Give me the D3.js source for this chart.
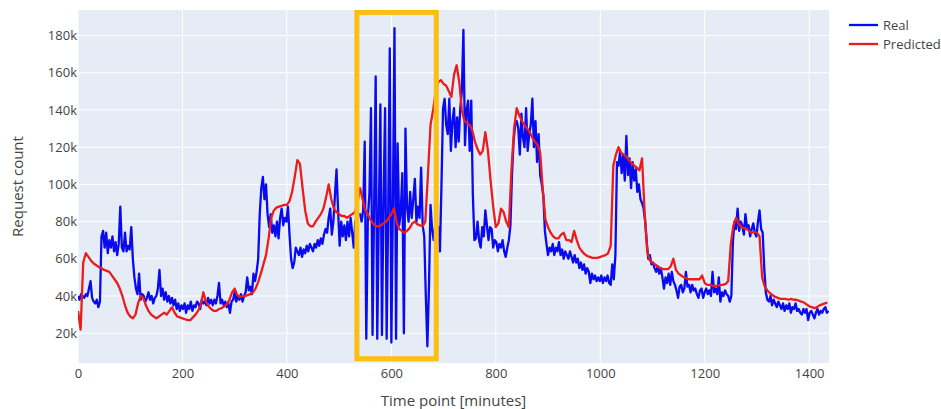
<!DOCTYPE html>
<html>
<head>
<meta charset="utf-8">
<script src="https://cdn.jsdelivr.net/npm/d3@7"></script>
<style>
  body { margin: 0; background: #fff; }
  text { font-family: "Open Sans", sans-serif; fill: #444; }
</style>
</head>
<body>
<div id="chart"></div>
<script>
//Minutes between two samples of each series.
var realStep = 3;
var predStep = 5;

//Real request count, in thousands, one value every 3 minutes.
var realValues = [
  40,38,41,40,39,41,40,44,48,39,37,36,38,34,37,72,
  75,66,74,63,70,66,72,64,69,62,68,88,66,64,74,64,67,65,77,
  60,50,44,41,52,38,41,40,37,39,42,38,40,36,39,40,
  44,54,40,44,38,42,37,40,36,39,35,38,33,36,32,35,33,36,31,35,33,37,32,35,34,37,36,33,38,36,
  37,35,39,36,38,35,38,36,40,47,36,38,35,37,34,36,31,37,38,42,37,40,38,41,37,40,42,50,43,45,41,52,48,53,60,
  84,98,104,92,100,84,77,84,74,78,72,80,71,82,87,78,82,80,88,73,60,55,
  58,66,64,62,66,61,65,63,67,64,68,66,64,68,66,70,67,71,68,73,76,74,82,
  87,73,80,94,108,86,67,80,72,78,70,80,72,82,74,66,80,82,84,
  84,80,86,123,17,82,95,141,19,88,158,17,84,143,19,92,141,17,86,173,
  15,90,184,17,122,78,85,106,20,130,88,80,96,82,92,103,80,88,82,109,
  78,72,40,13,45,89,76,70,78,74,77,64,100,141,146,132,127,146,118,134,141,
  120,136,123,141,150,183,121,140,145,118,145,95,70,71,80,70,66,77,72,86,
  78,70,77,76,66,70,69,64,68,66,70,64,61,66,70,78,105,
  123,132,134,130,116,138,125,120,141,118,127,132,146,120,134,112,127,105,100,94,75,68,62,
  66,64,68,62,66,64,69,62,65,60,64,62,60,64,61,58,62,58,60,55,
  58,54,57,52,55,53,47,52,49,51,48,50,48,51,47,50,48,51,47,46,57,49,62,
  112,110,118,106,116,102,126,105,114,98,112,102,108,96,100,92,90,87,80,69,60,62,57,
  58,55,53,56,52,55,50,44,50,47,52,46,53,48,46,43,39,45,46,42,
  44,53,45,46,42,46,43,44,41,39,43,44,39,42,44,41,43,40,53,42,
  44,41,50,37,42,40,43,41,40,37,40,
  69,80,76,87,75,80,78,73,84,77,78,72,76,79,74,72,80,86,76,74,55,42,
  38,37,40,35,38,36,34,37,35,33,36,32,35,33,36,31,34,33,36,32,
  33,31,30,33,31,33,27,31,32,30,28,31,33,30,32,31,33,34,31,32
];

//Predicted request count, in thousands, one value every 5 minutes.
var predValues = [
  32,22,58,63,61,59,57.5,56.5,55.5,55,54,53.5,53,51,49,47,44,40,35,31,
  29,28,30,36,40,39,35,32,30,29,28,29,30,31,30,32,34,31,29,28.5,
  28,27.5,27,27,28.5,30,32,35,42,37,34.5,33,32,32,33,33.5,34.5,35.5,38,42,
  44,40.5,39.5,40,40,40.5,41,42,44,47.5,52,57,62,71,82,86,87.5,88,88.5,89,
  89,91,96,104,113,111,98,86,79,77.5,77.5,80,82,84,87,93,100,92,87,85,
  84,83,83,82,83,84,85,90,98,92,86,84,81,79,77.5,77.5,78,79,80,82,
  84,87,80,76,75,74,75,76.5,79,80,78.5,78,77.5,80,105,132,140,150,155,156,
  154,153,150,147,159,164,155,140,134,133,132,129,123,119,116,118,128,118,102,88,
  77,79,87,85,80,77,108,130,141,137,134,132,130,128,125,123,121,117,97,81,
  77,74,72,71,71,73,74,70,70,69,75,70,66,64,62.5,61.5,61,60.5,60.5,60.5,
  61,61.5,62,63,67,110,116,120,117,116,115,113,111.5,110,109,107.5,114,85,64,59,
  58,57,56,55,54.5,54.5,54.5,56,60,54,52,51,50,49.5,49,49,49,49,49,51,
  47,46,46,45.5,45.5,45.5,46,46,46.5,48,68,78,82,79,77,76.5,76,75,74,74.5,
  74,72,50,45,43,41.5,40.5,39.5,39,38.5,38.5,38.5,38,38.5,38,38,37.5,37,36.5,35.5,
  34.5,34,33.5,34,35,35.5,36,36.5
];

var seriesNames = ["Real", "Predicted"];
var seriesColors = ["#0a0af0", "#ec1c1c"];

//Tick values for both axes.
var xTicks = [0, 200, 400, 600, 800, 1000, 1200, 1400];
var yTicks = [20000, 40000, 60000, 80000, 100000, 120000, 140000, 160000, 180000];

//Highlighted window (minutes, request count).
var boxMinutes = [534, 686];
var boxCounts = [6300, 192400];

//Define the SVG area dimensions.
var svgWidth = 941;
var svgHeight = 409;

var margin = {
  top: 10,
  right: 112,
  bottom: 46,
  left: 78
};

var width = svgWidth - margin.left - margin.right;
var height = svgHeight - margin.top - margin.bottom;

var svg = d3.select("#chart")
  .append("svg")
  .attr("width", svgWidth)
  .attr("height", svgHeight);

var chartGroup = svg.append("g")
  .attr("transform", `translate(${margin.left}, ${margin.top})`);

//Scales
var xLinearScale = d3.scaleLinear().domain([0, 1438]).range([0, width]);
var yLinearScale = d3.scaleLinear().domain([4000, 193700]).range([height, 0]);

//Plot background
chartGroup.append("rect")
  .attr("width", width)
  .attr("height", height)
  .attr("fill", "#e5ecf6");

//Grid lines
chartGroup.append("g")
  .selectAll("line.vgrid")
  .data(xTicks)
  .enter().append("line")
    .attr("x1", d => xLinearScale(d))
    .attr("x2", d => xLinearScale(d))
    .attr("y1", 0)
    .attr("y2", height)
    .attr("stroke", "#fff")
    .attr("stroke-width", 1);

chartGroup.append("g")
  .selectAll("line.hgrid")
  .data(yTicks)
  .enter().append("line")
    .attr("x1", 0)
    .attr("x2", width)
    .attr("y1", d => yLinearScale(d))
    .attr("y2", d => yLinearScale(d))
    .attr("stroke", "#fff")
    .attr("stroke-width", 1);

//Axes (labels only, like plotly)
var bottomAxis = d3.axisBottom(xLinearScale)
  .tickValues(xTicks)
  .tickSize(0)
  .tickPadding(6)
  .tickFormat(d3.format("d"));

var leftAxis = d3.axisLeft(yLinearScale)
  .tickValues(yTicks)
  .tickSize(0)
  .tickPadding(1)
  .tickFormat(d => (d / 1000) + "k");

var xAxisG = chartGroup.append("g")
  .attr("transform", `translate(0, ${height})`)
  .call(bottomAxis);
var yAxisG = chartGroup.append("g").call(leftAxis);

[xAxisG, yAxisG].forEach(function(g) {
  g.select(".domain").remove();
  g.selectAll("text")
    .attr("font-family", "'Open Sans', sans-serif")
    .attr("font-size", 13)
    .attr("fill", "#444");
});

//Series lines
var clip = chartGroup.append("clipPath").attr("id", "plotClip");
clip.append("rect").attr("width", width).attr("height", height);

var line = d3.line()
  .x(d => xLinearScale(d[0]))
  .y(d => yLinearScale(d[1]));

var realData = realValues.map((v, i) => [i * realStep, v * 1000]);
var predData = predValues.map((v, i) => [i * predStep, v * 1000]);

chartGroup.append("path")
  .datum(realData)
  .attr("clip-path", "url(#plotClip)")
  .attr("fill", "none")
  .attr("stroke", seriesColors[0])
  .attr("stroke-width", 2.3)
  .attr("stroke-linejoin", "round")
  .attr("d", line);

chartGroup.append("path")
  .datum(predData)
  .attr("clip-path", "url(#plotClip)")
  .attr("fill", "none")
  .attr("stroke", seriesColors[1])
  .attr("stroke-width", 2.3)
  .attr("stroke-linejoin", "round")
  .attr("d", line);

//Highlight box
chartGroup.append("rect")
  .attr("x", xLinearScale(boxMinutes[0]))
  .attr("y", yLinearScale(boxCounts[1]))
  .attr("width", xLinearScale(boxMinutes[1]) - xLinearScale(boxMinutes[0]))
  .attr("height", yLinearScale(boxCounts[0]) - yLinearScale(boxCounts[1]))
  .attr("fill", "none")
  .attr("stroke", "#fbbf12")
  .attr("stroke-width", 5);

//Axis titles
svg.append("text")
  .attr("transform", `translate(23, ${margin.top + height / 2}) rotate(-90)`)
  .attr("text-anchor", "middle")
  .attr("font-size", 15)
  .text("Request count");

svg.append("text")
  .attr("x", margin.left + width / 2)
  .attr("y", 406)
  .attr("text-anchor", "middle")
  .attr("font-size", 15)
  .text("Time point [minutes]");

//Legend
var legend = svg.append("g").attr("transform", "translate(849, 25)");
seriesNames.forEach(function(name, i) {
  var row = legend.append("g").attr("transform", `translate(0, ${i * 19})`);
  row.append("line")
    .attr("x1", 0).attr("x2", 29)
    .attr("y1", 0).attr("y2", 0)
    .attr("stroke", seriesColors[i])
    .attr("stroke-width", 2.3);
  row.append("text")
    .attr("x", 34)
    .attr("y", 0)
    .attr("dy", "0.35em")
    .attr("font-size", 13)
    .text(name);
});
</script>
</body>
</html>
